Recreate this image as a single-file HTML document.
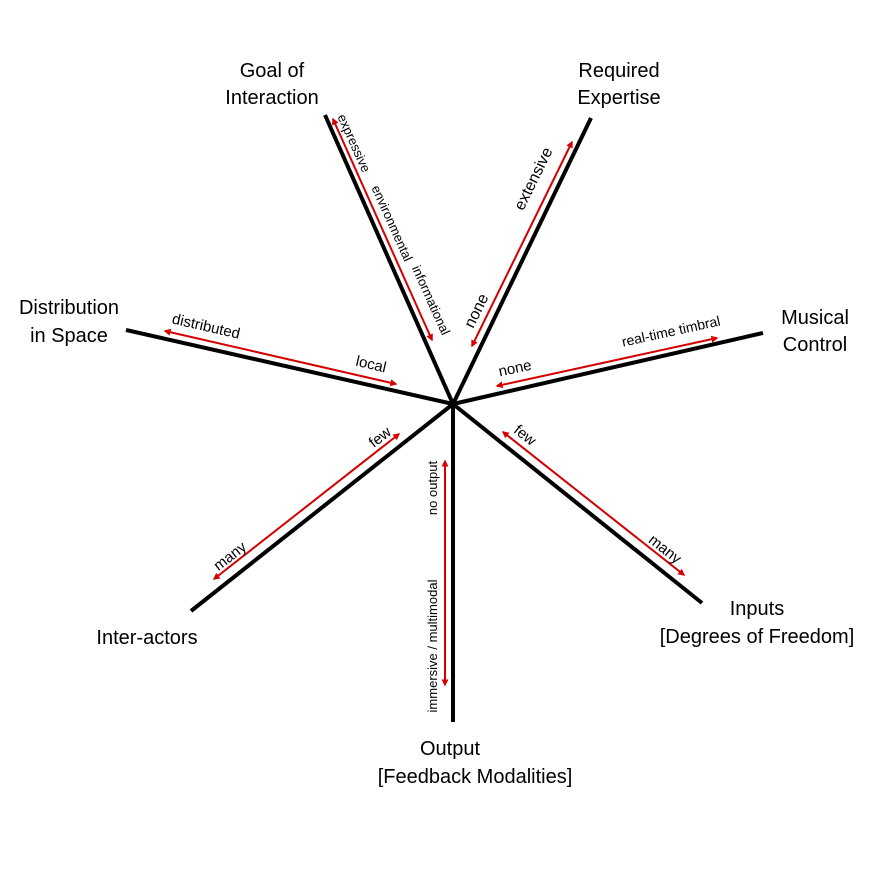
<!DOCTYPE html>
<html><head><meta charset="utf-8"><style>
html,body{margin:0;padding:0;background:#fff;}
svg{display:block;font-family:"Liberation Sans",sans-serif;}
</style></head><body>
<svg width="880" height="880" viewBox="0 0 880 880" xmlns="http://www.w3.org/2000/svg">
<defs>
<marker id="a" viewBox="0 0 10 10" refX="8" refY="5" markerWidth="3.5" markerHeight="3.5" orient="auto-start-reverse">
<path d="M0,0 L10,5 L0,10 z" fill="#d40000"/></marker>
</defs>
<g stroke="#000" stroke-width="4" stroke-linecap="butt">
<line x1="453" y1="404" x2="325" y2="115"/>
<line x1="453" y1="404" x2="591" y2="118"/>
<line x1="453" y1="404" x2="763" y2="333"/>
<line x1="453" y1="404" x2="702" y2="603"/>
<line x1="453" y1="404" x2="453" y2="722"/>
<line x1="453" y1="404" x2="191" y2="611"/>
<line x1="453" y1="404" x2="126" y2="330"/>
</g>
<g stroke="#d40000" stroke-width="2" marker-start="url(#a)" marker-end="url(#a)">
<line x1="333" y1="119" x2="432" y2="340"/>
<line x1="572" y1="142" x2="472" y2="346"/>
<line x1="497" y1="386" x2="717" y2="338"/>
<line x1="503" y1="432" x2="684" y2="575"/>
<line x1="445" y1="461" x2="445" y2="685"/>
<line x1="399" y1="434" x2="214" y2="579"/>
<line x1="165" y1="331" x2="396" y2="384"/>
</g>
<g font-size="14" fill="#000" text-anchor="middle">
<text font-size="13" transform="translate(350,145) rotate(65.8)">expressive</text>
<text font-size="13" transform="translate(388,225) rotate(65.8)">environmental</text>
<text font-size="13" transform="translate(427,302) rotate(65.8)">informational</text>
<text font-size="16" transform="translate(538,181) rotate(-63.9)">extensive</text>
<text font-size="16" transform="translate(481,313) rotate(-63.9)">none</text>
<text font-size="15" transform="translate(516,373) rotate(-12.3)">none</text>
<text transform="translate(672,336) rotate(-12.3)">real-time timbral</text>
<text font-size="15" transform="translate(522,439) rotate(38.3)">few</text>
<text font-size="15" transform="translate(662,553) rotate(38.3)">many</text>
<text font-size="13" transform="translate(437,488) rotate(-90)">no output</text>
<text font-size="13" transform="translate(437,646) rotate(-90)">immersive / multimodal</text>
<text font-size="15" transform="translate(383,441) rotate(-38)">few</text>
<text font-size="15" transform="translate(233,560) rotate(-38)">many</text>
<text font-size="15" transform="translate(205,331) rotate(12.9)">distributed</text>
<text font-size="15" transform="translate(370,369) rotate(12.9)">local</text>
</g>
<g font-size="20" fill="#000" text-anchor="middle">
<text x="272" y="77">Goal of</text><text x="272" y="104">Interaction</text>
<text x="619" y="77">Required</text><text x="619" y="104">Expertise</text>
<text x="815" y="324">Musical</text><text x="815" y="351">Control</text>
<text x="69" y="314">Distribution</text><text x="69" y="342">in Space</text>
<text x="757" y="615">Inputs</text><text x="757" y="643">[Degrees of Freedom]</text>
<text x="450" y="755">Output</text><text x="475" y="783">[Feedback Modalities]</text>
<text x="147" y="644">Inter-actors</text>
</g>
</svg>
</body></html>
